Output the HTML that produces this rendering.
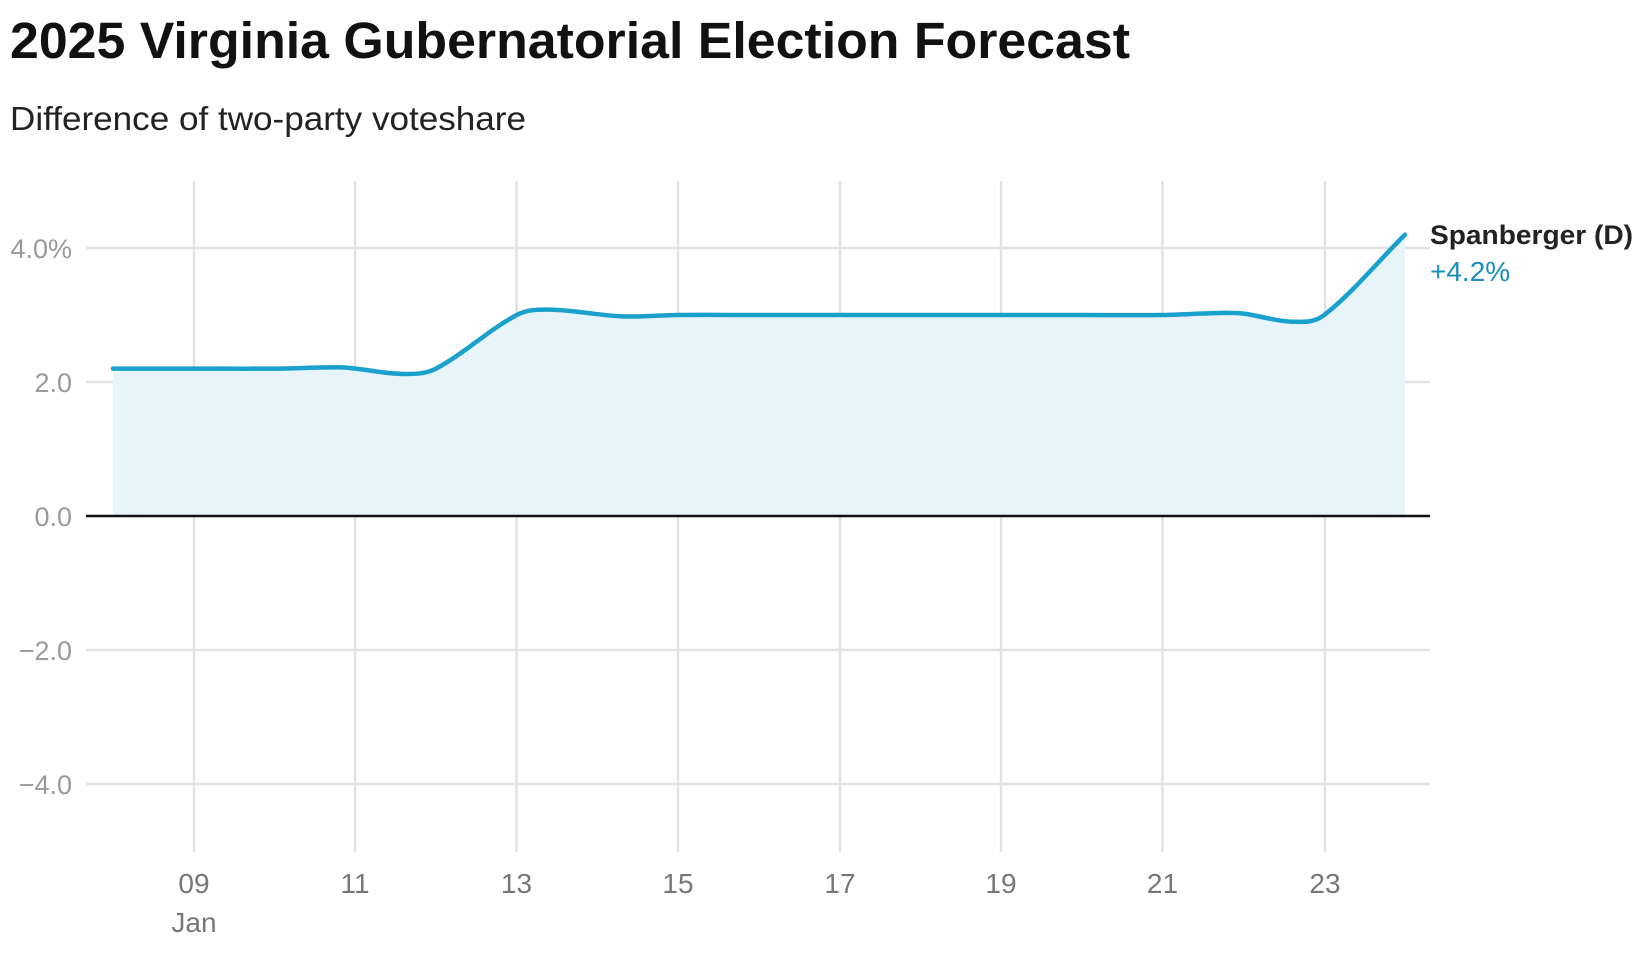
<!DOCTYPE html>
<html><head><meta charset="utf-8"><style>
body{margin:0;background:#fff;width:1651px;height:969px;overflow:hidden;font-family:"Liberation Sans",sans-serif}
</style></head><body>
<svg width="1651" height="969" xmlns="http://www.w3.org/2000/svg" font-family="Liberation Sans, sans-serif">
<text x="10" y="58" font-size="51" font-weight="bold" fill="#111" textLength="1120" lengthAdjust="spacingAndGlyphs">2025 Virginia Gubernatorial Election Forecast</text>
<text x="10" y="130" font-size="33" fill="#222" textLength="516" lengthAdjust="spacingAndGlyphs">Difference of two-party voteshare</text>
<g stroke="#e2e2e2" stroke-width="2.5">
<line x1="86" x2="1430" y1="248" y2="248"/><line x1="86" x2="1430" y1="382" y2="382"/>
<line x1="86" x2="1430" y1="650" y2="650"/><line x1="86" x2="1430" y1="784" y2="784"/>
<line x1="194" x2="194" y1="181" y2="852"/><line x1="355" x2="355" y1="181" y2="852"/>
<line x1="516.5" x2="516.5" y1="181" y2="852"/><line x1="678" x2="678" y1="181" y2="852"/>
<line x1="840" x2="840" y1="181" y2="852"/><line x1="1001" x2="1001" y1="181" y2="852"/>
<line x1="1162.5" x2="1162.5" y1="181" y2="852"/><line x1="1325" x2="1325" y1="181" y2="852"/>
</g>
<path id="area" fill="#e7f4fa" d=""/>
<line x1="86" x2="1430" y1="516" y2="516" stroke="#111" stroke-width="2.5"/>
<path id="ln" fill="none" stroke="#1aa0cc" stroke-width="4.5" stroke-linecap="round" d=""/>
<g font-size="27" fill="#9a9a9a" text-anchor="end">
<text x="72" y="258">4.0%</text><text x="72" y="392">2.0</text><text x="72" y="526">0.0</text>
<text x="72" y="660">−2.0</text><text x="72" y="794">−4.0</text>
</g>
<g font-size="28" fill="#777" text-anchor="middle">
<text x="194" y="893">09</text><text x="194" y="932">Jan</text>
<text x="355" y="893">11</text><text x="516.5" y="893">13</text><text x="678" y="893">15</text>
<text x="840" y="893">17</text><text x="1001" y="893">19</text><text x="1162.5" y="893">21</text><text x="1325" y="893">23</text>
</g>
<text x="1430" y="244" font-size="27" font-weight="bold" fill="#222" textLength="203" lengthAdjust="spacingAndGlyphs">Spanberger (D)</text>
<text x="1430" y="281" font-size="28" fill="#1a8fbf">+4.2%</text>
</svg>
<script>
var d=[[8,2.2],[9,2.2],[10,2.2],[10.8,2.22],[11,2.2],[11.6,2.12],[12,2.2],[13,3.0],[13.4,3.08],[14.3,2.98],[15,3.0],[16,3.0],[17,3.0],[18,3.0],[19,3.0],[20,3.0],[21,3.0],[21.7,3.03],[22,3.02],[22.6,2.9],[23,3.0],[24,4.2]];
var p=d.map(function(a){return [113+80.75*(a[0]-8),516-67*a[1]];});
var s="M"+p[0][0]+","+p[0][1];
for(var i=0;i<p.length-1;i++){var p0=p[Math.max(0,i-1)],p1=p[i],p2=p[i+1],p3=p[Math.min(p.length-1,i+2)];
var t=(p2[0]-p1[0]);
var m1=(p2[1]-p0[1])/(p2[0]-p0[0]),m2=(p3[1]-p1[1])/(p3[0]-p1[0]);
s+=" C"+(p1[0]+t/3)+","+(p1[1]+m1*t/3)+" "+(p2[0]-t/3)+","+(p2[1]-m2*t/3)+" "+p2[0]+","+p2[1];}
document.getElementById("ln").setAttribute("d",s);
document.getElementById("area").setAttribute("d",s+" L1405,516 L113,516 Z");
</script>
</body></html>
